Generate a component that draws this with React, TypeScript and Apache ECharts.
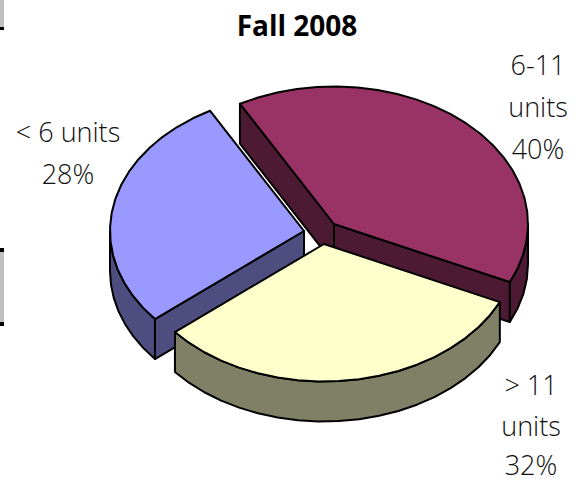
import React, { useEffect, useRef } from "react";
import * as echarts from "echarts";

const categories = ["6-11\nunits", "> 11\nunits", "< 6 units"];
const shares = [40, 32, 28];
const drawOrder = [0, 2, 1];
const titleText = "Fall 2008";

const topColors = ["#993366", "#FFFFCC", "#9999FF"];
const sideColors = ["#4D1A33", "#808066", "#4D4D80"];
const apexes = [[334, 224], [324, 244], [304, 231]];
const labelX = [538, 531, 68];
const labelY = [[64, 106, 148], [384, 425, 464], [131, 173.5]];
const RX = 194, RY = 137.5, DEPTH = 40, START = -29, STEP = 6;

const total = shares.reduce((a, b) => a + b, 0);
const bounds: number[][] = [];
let acc = START;
shares.forEach((v) => { bounds.push([acc, acc + (v / total) * 360]); acc += (v / total) * 360; });

function pt(i: number, t: number): number[] {
  const r = (t * Math.PI) / 180;
  return [apexes[i][0] + RX * Math.sin(r), apexes[i][1] - RY * Math.cos(r)];
}
function arcPts(i: number, a: number, b: number): number[][] {
  const n = Math.max(1, Math.round((b - a) / STEP));
  const out: number[][] = [];
  for (let k = 0; k <= n; k++) out.push(pt(i, a + ((b - a) * k) / n));
  return out;
}
const down = (p: number[]) => [p[0], p[1] + DEPTH];

function poly(points: number[][], fill: string) {
  return {
    type: "polygon",
    shape: { points },
    style: { fill, stroke: "#000", lineWidth: 2, lineJoin: "round" },
  };
}

function renderSlice(_: any, api: any) {
  const i = api.value(0);
  const [a, b] = bounds[i];
  const apex = apexes[i];
  const side = sideColors[i];
  const children: any[] = [];
  const addRadial = (t: number) => {
    const e = pt(i, t);
    children.push(poly([apex, e, down(e), down(apex)], side));
  };
  const addRim = (from: number, to: number) => {
    const rim = arcPts(i, from, to);
    children.push(poly([...rim, ...rim.slice().reverse().map(down)], side));
  };
  if (i === 0) {
    addRadial(a);
    addRadial(b);
    addRim(90, b);
  } else if (i === 2) {
    addRadial(a);
    addRim(a, 270);
  } else {
    addRim(a, b);
  }
  children.push(poly([apex, ...arcPts(i, a, b)], topColors[i]));
  return { type: "group", children };
}

export default function App() {
  const ref = useRef<HTMLDivElement>(null);
  useEffect(() => {
    const chart = echarts.init(ref.current!, undefined, { renderer: "svg" });
    const labelTexts = categories.flatMap((c, i) =>
      [...c.split("\n"), `${shares[i]}%`].map((line, k) => ({
        type: "text", x: labelX[i], y: labelY[i][k],
        style: {
          text: line, align: "center", verticalAlign: "middle",
          font: '300 27px "Open Sans"', fill: "#111",
        },
      }))
    );
    chart.setOption({
      animation: false,
      backgroundColor: "#fff",
      title: {
        text: titleText,
        left: 292, top: 6, textAlign: "center",
        textStyle: { fontFamily: "Open Sans", fontSize: 28, fontWeight: "bold", color: "#000" },
      },
      series: [{
        type: "custom",
        coordinateSystem: "none",
        renderItem: renderSlice,
        data: drawOrder.map((i) => [i]),
      }],
      graphic: [
        ...labelTexts,
        { type: "rect", shape: { x: 0, y: 0, width: 4, height: 27 }, style: { fill: "#C0C0C0" } },
        { type: "rect", shape: { x: 0, y: 27, width: 4, height: 3 }, style: { fill: "#000" } },
        { type: "rect", shape: { x: 0, y: 248, width: 4, height: 76 }, style: { fill: "#C0C0C0" } },
        { type: "rect", shape: { x: 0, y: 248, width: 4, height: 4 }, style: { fill: "#000" } },
        { type: "rect", shape: { x: 0, y: 322, width: 4, height: 4 }, style: { fill: "#000" } },
      ],
    });
    return () => chart.dispose();
  }, []);
  return <div ref={ref} style={{ position: "fixed", left: 0, top: 0, width: 587, height: 483 }} />;
}
